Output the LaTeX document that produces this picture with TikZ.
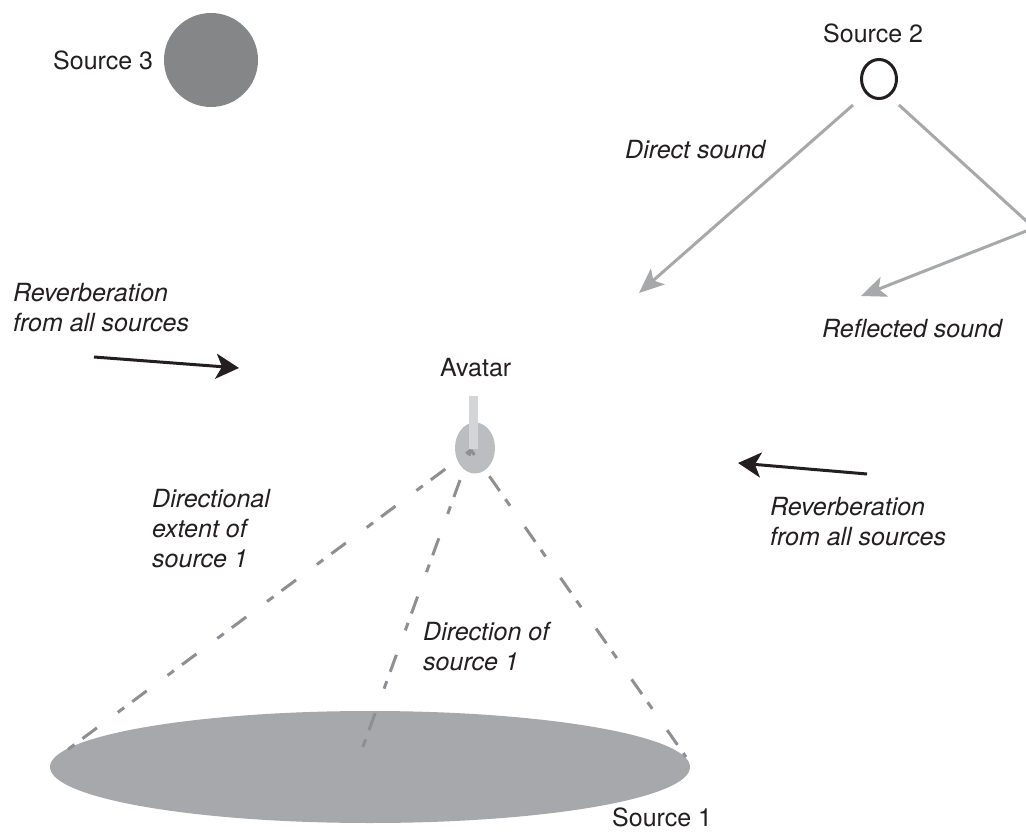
\documentclass[tikz,border=0pt]{standalone}
\usepackage{fontspec}
\setmainfont{TeX Gyre Heros}
\usetikzlibrary{arrows.meta,shapes.geometric}
\definecolor{srcthree}{HTML}{858688}
\definecolor{srcone}{HTML}{A7A8AB}
\definecolor{avgray}{HTML}{BCBDC0}
\definecolor{stemgray}{HTML}{D4D5D7}
\definecolor{arrgray}{HTML}{A7A8AA}
\definecolor{dashgray}{HTML}{8E8F92}
\definecolor{ink}{HTML}{231F20}
\begin{document}
\begin{tikzpicture}[x=1pt,y=-1pt,
  lbl/.style={font=\fontsize{25}{30}\selectfont, text=ink, inner sep=0pt, anchor=base west, align=left},
  ilbl/.style={lbl, font=\fontsize{25}{30}\selectfont\itshape},
  grayarrow/.style={draw=arrgray, line width=3pt, -{Stealth[length=25pt,width=21pt,inset=6pt]}},
  blackarrow/.style={draw=ink, line width=3pt, -{Stealth[length=23pt,width=25pt,inset=6pt]}},
  dashline/.style={draw=dashgray, line width=3pt, dash pattern=on 18pt off 10pt on 8pt off 26pt, dash phase=30pt},
]
\fill[white] (0,0) rectangle (1026,834);
\useasboundingbox (0,0) rectangle (1026,834);

% Source 3
\node[circle, fill=srcthree, minimum size=94pt, inner sep=0pt] (src3) at (211,60) {};
\node[lbl] (src3lbl) at (53,70) {Source 3};

% Source 2
\node[ellipse, draw=ink, line width=3pt, minimum width=35pt, minimum height=39pt, inner sep=0pt] (src2) at (879,79) {};
\node[lbl] (src2lbl) at (823,43) {Source 2};

% Source 1
\node[ellipse, fill=srcone, minimum width=640pt, minimum height=112pt, inner sep=0pt] (src1) at (370,767) {};
\node[lbl] (src1lbl) at (612,826) {Source 1};

% Avatar
\node[ellipse, fill=avgray, minimum width=40pt, minimum height=51pt, inner sep=0pt] (avatar) at (475,448) {};
\node[lbl] (avlbl) at (440,377) {Avatar};

% dashed direction lines
\coordinate (apex) at (471,450);
\coordinate (endL) at (55,759);
\coordinate (endC) at (357,763);
\coordinate (endR) at (686,757);
\draw[dashline] (apex) -- (endL);
\draw[dashline] (apex) -- (endC);
\draw[dashline] (apex) -- (endR);

% avatar stem
\node[rectangle, fill=stemgray, minimum width=9pt, minimum height=53pt, inner sep=0pt, anchor=north] (stem) at (473.5,396) {};

% direct and reflected sound
\coordinate (d0) at (853,105);
\coordinate (dtip) at (639,293);
\coordinate (r0) at (899,105);
\coordinate (bend) at (1034,228);
\coordinate (rtip) at (861,296);
\draw[grayarrow] (d0) -- (dtip);
\draw[grayarrow] (r0) -- (bend) -- (rtip);
\node[ilbl] (dlbl) at (625,159) {Direct sound};
\node[ilbl] (rlbl) at (822,338) {Reflected sound};

% reverberation arrows
\coordinate (rvL0) at (94,357);
\coordinate (rvL1) at (239,368);
\coordinate (rvR0) at (867,474);
\coordinate (rvR1) at (738,463);
\draw[blackarrow] (rvL0) -- (rvL1);
\draw[blackarrow] (rvR0) -- (rvR1);
\node[ilbl] (revL) at (13,332) {Reverberation\\from all sources};
\node[ilbl] (revR) at (770,545) {Reverberation\\from all sources};

% source 1 labels
\node[ilbl] (extlbl) at (152,567) {Directional\\extent of\\source 1};
\node[ilbl] (dirlbl) at (423,670) {Direction of\\source 1};
\end{tikzpicture}
\end{document}
